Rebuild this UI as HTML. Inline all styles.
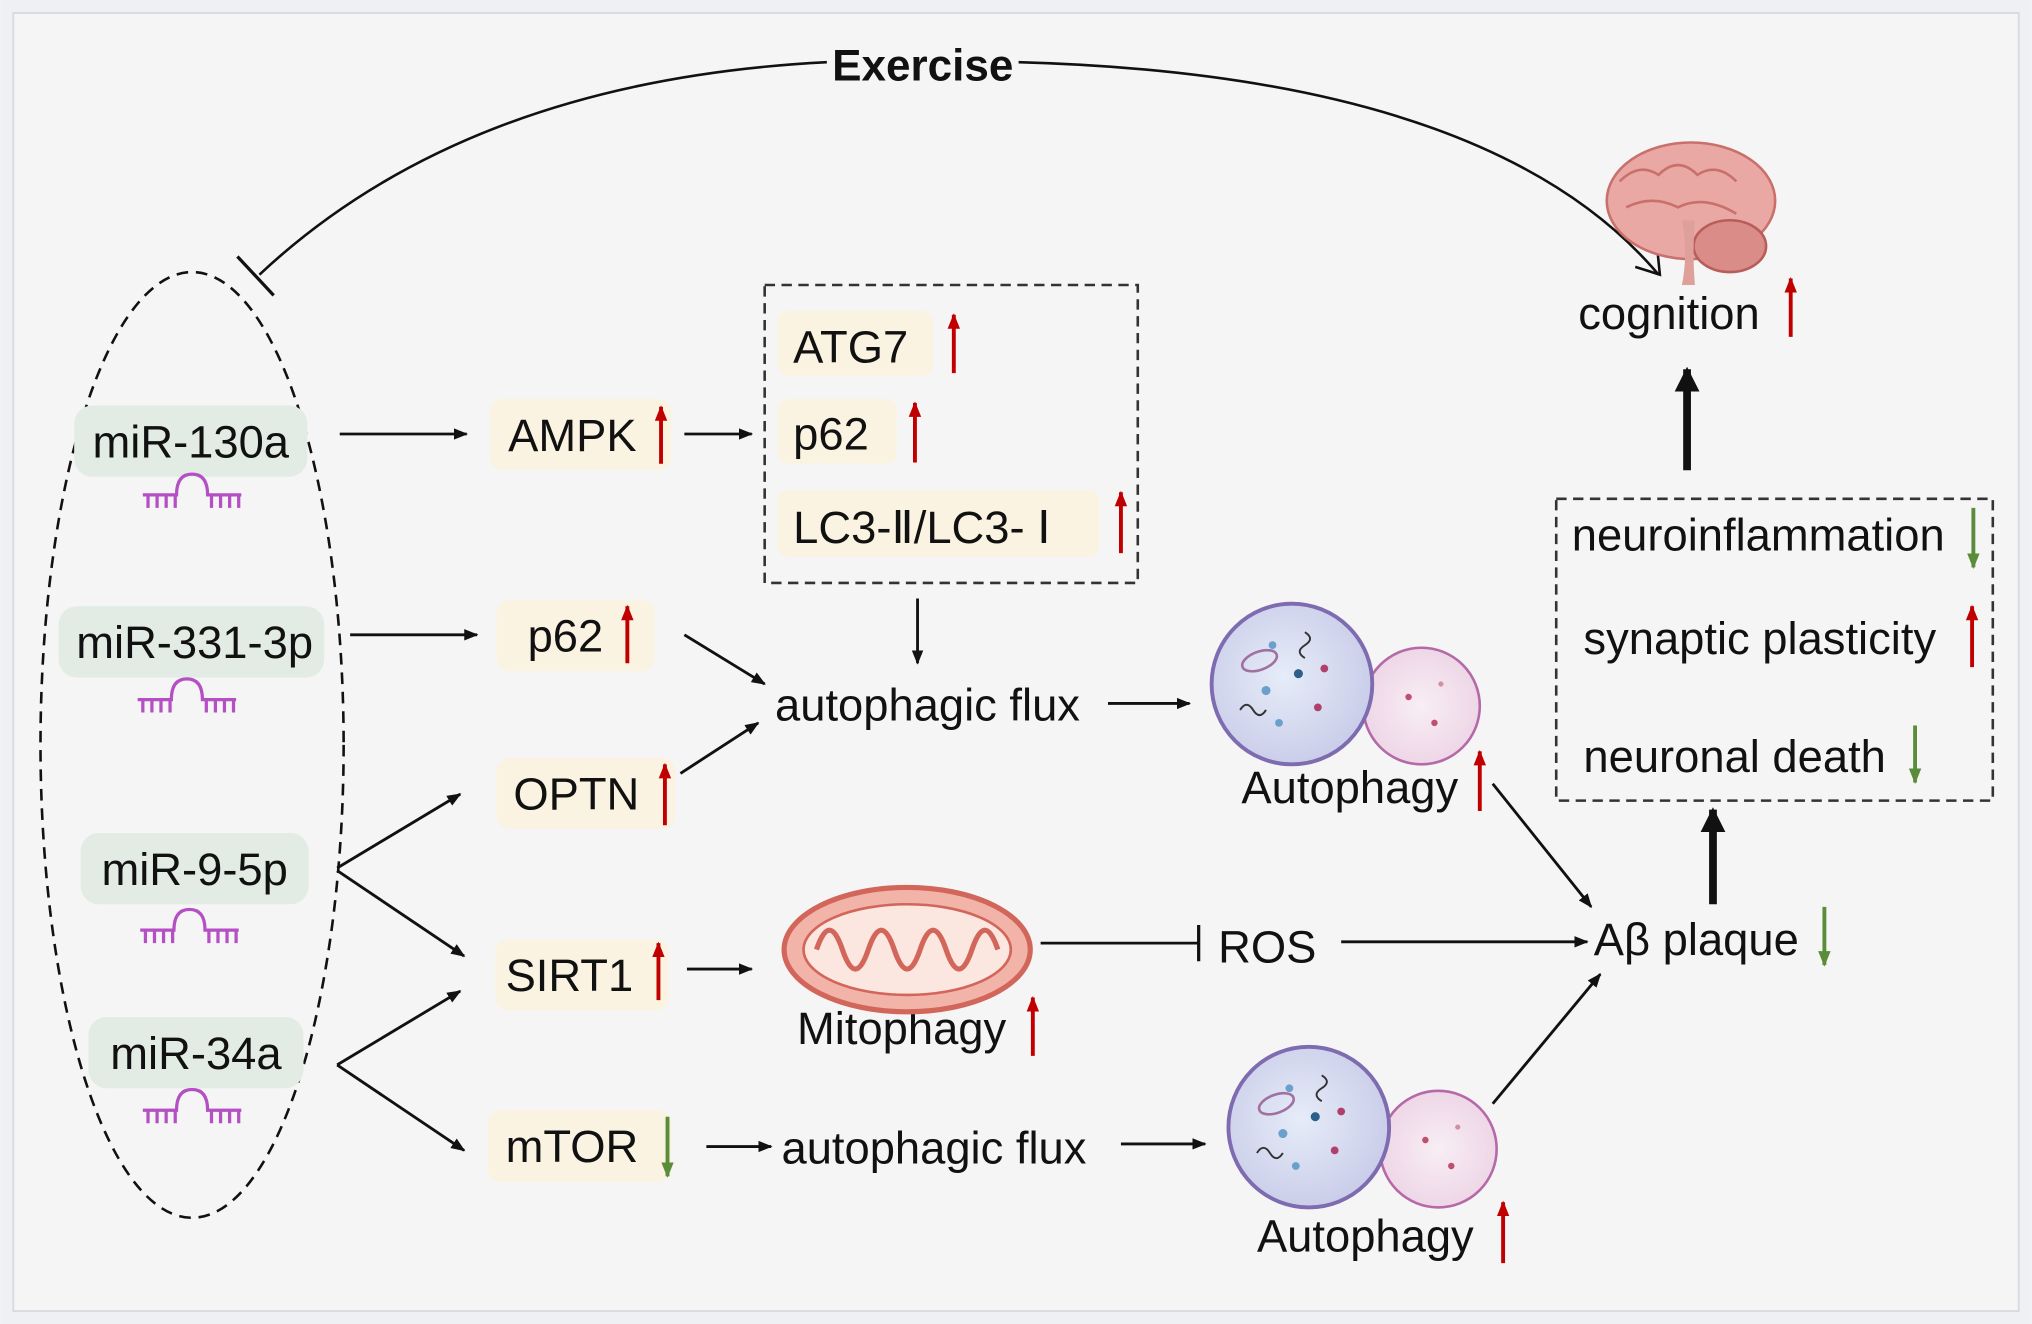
<!DOCTYPE html>
<html><head><meta charset="utf-8"><style>
html,body{margin:0;padding:0;background:#f4f4f4;}
svg{display:block;}
text{font-family:"Liberation Sans",Arial,sans-serif;fill:#111;}
</style></head><body>
<svg width="2032" height="1324" viewBox="0 0 1568 1022" xmlns="http://www.w3.org/2000/svg">
<defs>
<marker id="ah" viewBox="0 0 10 10" refX="9" refY="5" markerWidth="5" markerHeight="5" orient="auto"><path d="M0,1 L10,5 L0,9 Z" fill="#111"/></marker>
<marker id="ahb" viewBox="0 0 10 10" refX="9" refY="5" markerWidth="3.2" markerHeight="3.2" orient="auto"><path d="M0,0 L10,5 L0,10 Z" fill="#111"/></marker>
<marker id="ahr" viewBox="0 0 10 10" refX="9" refY="5" markerWidth="4" markerHeight="4" orient="auto"><path d="M0,1 L10,5 L0,9 Z" fill="#c00000"/></marker>
<marker id="ahg" viewBox="0 0 10 10" refX="9" refY="5" markerWidth="4" markerHeight="4" orient="auto"><path d="M0,1 L10,5 L0,9 Z" fill="#5b8c3a"/></marker>
<radialGradient id="cellA" cx="0.45" cy="0.45" r="0.6"><stop offset="0" stop-color="#e6ecf8"/><stop offset="1" stop-color="#c8cbe8"/></radialGradient>
<radialGradient id="cellB" cx="0.5" cy="0.5" r="0.6"><stop offset="0" stop-color="#f8eef4"/><stop offset="1" stop-color="#ecd2e4"/></radialGradient>
<g id="rna" fill="none" stroke="#b44fc4" stroke-width="2.5">
<path d="M-38,0 H-12 Q-12,-16 0,-16 Q12,-16 12,0 H38"/>
<path d="M-34,0 V10 M-27,0 V10 M-20,0 V10 M-13,0 V10 M15,0 V10 M22,0 V10 M29,0 V10 M36,0 V10"/>
</g>
<g id="cell">
<circle cx="100" cy="17" r="45" fill="url(#cellB)" stroke="#b569a8" stroke-width="2"/>
<circle cx="0" cy="0" r="62" fill="url(#cellA)" stroke="#7e6bb0" stroke-width="3"/>
<ellipse cx="-25" cy="-18" rx="14" ry="7" fill="none" stroke="#a070a0" stroke-width="2" transform="rotate(-20 -25 -18)"/>
<circle cx="-15" cy="-30" r="3" fill="#6aa0cc"/><circle cx="-20" cy="5" r="3.5" fill="#6aa0cc"/>
<circle cx="5" cy="-8" r="3.5" fill="#2d5f8a"/><circle cx="-10" cy="30" r="3" fill="#6aa0cc"/>
<circle cx="25" cy="-12" r="3" fill="#b0406a"/><circle cx="20" cy="18" r="3" fill="#b0406a"/>
<path d="M-40,20 q5,-8 10,0 t10,0" fill="none" stroke="#333" stroke-width="1.5"/>
<path d="M10,-40 q8,5 0,10 t0,10" fill="none" stroke="#333" stroke-width="1.5"/>
<circle cx="90" cy="10" r="2.5" fill="#c05070"/><circle cx="110" cy="30" r="2.5" fill="#c05070"/><circle cx="115" cy="0" r="2" fill="#d090a0"/>
</g>
</defs>
<rect x="0" y="0" width="1568" height="1022" fill="#eef0f4"/>
<rect x="10" y="10" width="1548" height="1002" fill="#f5f5f5" stroke="#d8dbe0" stroke-width="1.5"/>

<!-- Exercise arc -->
<path d="M200,212 Q360,62 638,48" fill="none" stroke="#111" stroke-width="2"/>
<path d="M786,48 Q1150,58 1280,212" fill="none" stroke="#111" stroke-width="2"/>
<line x1="183" y1="198" x2="211" y2="228" stroke="#111" stroke-width="2.5"/>
<path d="M1262,206 L1281,212 L1279,192" fill="none" stroke="#111" stroke-width="2"/>
<text x="712" y="62" font-size="34" font-weight="bold" text-anchor="middle">Exercise</text>

<!-- Ellipse -->
<ellipse cx="148" cy="575" rx="117" ry="365" fill="none" stroke="#111" stroke-width="2" stroke-dasharray="9,6"/>

<!-- miR boxes -->
<rect x="57" y="313" width="180" height="55" rx="14" fill="#e2ece5"/>
<text x="147" y="353" font-size="35" text-anchor="middle">miR-130a</text>
<use href="#rna" x="148" y="382"/>
<rect x="45" y="468" width="205" height="55" rx="14" fill="#e2ece5"/>
<text x="150" y="508" font-size="35" text-anchor="middle">miR-331-3p</text>
<use href="#rna" x="144" y="540"/>
<rect x="62" y="643" width="176" height="55" rx="14" fill="#e2ece5"/>
<text x="150" y="683" font-size="35" text-anchor="middle">miR-9-5p</text>
<use href="#rna" x="146" y="718"/>
<rect x="68" y="785" width="166" height="55" rx="14" fill="#e2ece5"/>
<text x="151" y="825" font-size="35" text-anchor="middle">miR-34a</text>
<use href="#rna" x="148" y="857"/>

<!-- protein boxes -->
<g fill="#fbf3e2">
<rect x="378" y="308" width="140" height="55" rx="10"/>
<rect x="383" y="463" width="122" height="55" rx="10"/>
<rect x="383" y="585" width="138" height="55" rx="10"/>
<rect x="382" y="725" width="134" height="55" rx="10"/>
<rect x="376" y="857" width="142" height="55" rx="10"/>
<rect x="600" y="240" width="120" height="50" rx="8"/>
<rect x="600" y="308" width="92" height="50" rx="8"/>
<rect x="600" y="378" width="248" height="52" rx="8"/>
</g>
<g font-size="35">
<text x="392" y="348">AMPK</text>
<text x="407" y="503">p62</text>
<text x="396" y="625">OPTN</text>
<text x="390" y="765">SIRT1</text>
<text x="390" y="897">mTOR</text>
<text x="612" y="280">ATG7</text>
<text x="612" y="347">p62</text>
<text x="612" y="419">LC3-Ⅱ/LC3- Ⅰ</text>
<text x="598" y="556">autophagic flux</text>
<text x="603" y="898">autophagic flux</text>
<text x="940" y="743">ROS</text>
<text x="958" y="620">Autophagy</text>
<text x="970" y="966">Autophagy</text>
<text x="615" y="806">Mitophagy</text>
<text x="1230" y="737">Aβ plaque</text>
<text x="1213" y="425">neuroinflammation</text>
<text x="1222" y="505">synaptic plasticity</text>
<text x="1222" y="596">neuronal death</text>
<text x="1218" y="254">cognition</text>
</g>

<!-- red/green indicator arrows -->
<g stroke="#c00000" stroke-width="3" marker-end="url(#ahr)">
<line x1="510" y1="358" x2="510" y2="314"/>
<line x1="484" y1="512" x2="484" y2="468"/>
<line x1="513" y1="637" x2="513" y2="590"/>
<line x1="508" y1="772" x2="508" y2="728"/>
<line x1="736" y1="288" x2="736" y2="243"/>
<line x1="706" y1="357" x2="706" y2="311"/>
<line x1="865" y1="427" x2="865" y2="380"/>
<line x1="1142" y1="626" x2="1142" y2="580"/>
<line x1="1160" y1="975" x2="1160" y2="928"/>
<line x1="797" y1="815" x2="797" y2="770"/>
<line x1="1382" y1="260" x2="1382" y2="215"/>
<line x1="1522" y1="515" x2="1522" y2="468"/>
</g>
<g stroke="#5b8c3a" stroke-width="3" marker-end="url(#ahg)">
<line x1="515" y1="862" x2="515" y2="908"/>
<line x1="1408" y1="700" x2="1408" y2="745"/>
<line x1="1523" y1="392" x2="1523" y2="438"/>
<line x1="1478" y1="560" x2="1478" y2="604"/>
</g>

<!-- dashed boxes -->
<rect x="590" y="220" width="288" height="230" fill="none" stroke="#333" stroke-width="2" stroke-dasharray="8,5"/>
<rect x="1201" y="385" width="337" height="233" fill="none" stroke="#333" stroke-width="2" stroke-dasharray="8,5"/>

<!-- arrows -->
<g stroke="#111" stroke-width="2.2" marker-end="url(#ah)" fill="none">
<line x1="262" y1="335" x2="360" y2="335"/>
<line x1="270" y1="490" x2="368" y2="490"/>
<line x1="260" y1="670" x2="355" y2="613"/>
<line x1="260" y1="672" x2="358" y2="738"/>
<line x1="260" y1="822" x2="355" y2="765"/>
<line x1="260" y1="822" x2="358" y2="888"/>
<line x1="528" y1="335" x2="580" y2="335"/>
<line x1="528" y1="490" x2="590" y2="528"/>
<line x1="525" y1="597" x2="585" y2="558"/>
<line x1="530" y1="748" x2="580" y2="748"/>
<line x1="545" y1="885" x2="595" y2="885"/>
<line x1="708" y1="462" x2="708" y2="512"/>
<line x1="855" y1="543" x2="918" y2="543"/>
<line x1="865" y1="883" x2="930" y2="883"/>
<line x1="1152" y1="605" x2="1228" y2="700"/>
<line x1="1035" y1="727" x2="1225" y2="727"/>
<line x1="1152" y1="852" x2="1235" y2="752"/>
</g>
<line x1="803" y1="728" x2="925" y2="728" stroke="#111" stroke-width="2.2"/>
<line x1="925" y1="714" x2="925" y2="742" stroke="#111" stroke-width="2.5"/>
<g stroke="#111" stroke-width="6" marker-end="url(#ahb)">
<line x1="1322" y1="698" x2="1322" y2="625"/>
<line x1="1302" y1="363" x2="1302" y2="285"/>
</g>

<!-- Mitochondrion -->
<ellipse cx="700" cy="733" rx="95" ry="48" fill="#f2b3a8" stroke="#d2665a" stroke-width="4"/>
<ellipse cx="700" cy="733" rx="80" ry="35" fill="#fbe6e0" stroke="#d2665a" stroke-width="2"/>
<path d="M630,733 q10,-30 20,0 t20,0 t20,0 t20,0 t20,0 t20,0 t20,0" fill="none" stroke="#d2665a" stroke-width="4"/>

<!-- Autophagy cells -->
<use href="#cell" x="997" y="528"/>
<use href="#cell" x="1010" y="870"/>

<!-- Brain -->
<g>
<ellipse cx="1305" cy="155" rx="65" ry="45" fill="#e9a8a4" stroke="#c9706c" stroke-width="2"/>
<path d="M1250,140 q15,-15 30,-5 q15,-15 30,0 q15,-10 30,5 M1255,160 q20,-10 40,0 q20,-10 45,5" fill="none" stroke="#c9706c" stroke-width="2"/>
<ellipse cx="1335" cy="190" rx="28" ry="20" fill="#d98c88" stroke="#b85e5a" stroke-width="2"/>
<path d="M1298,170 q5,25 0,50 l10,0 q-2,-25 0,-50 z" fill="#dfa09c"/>
</g>
</svg>
</body></html>
